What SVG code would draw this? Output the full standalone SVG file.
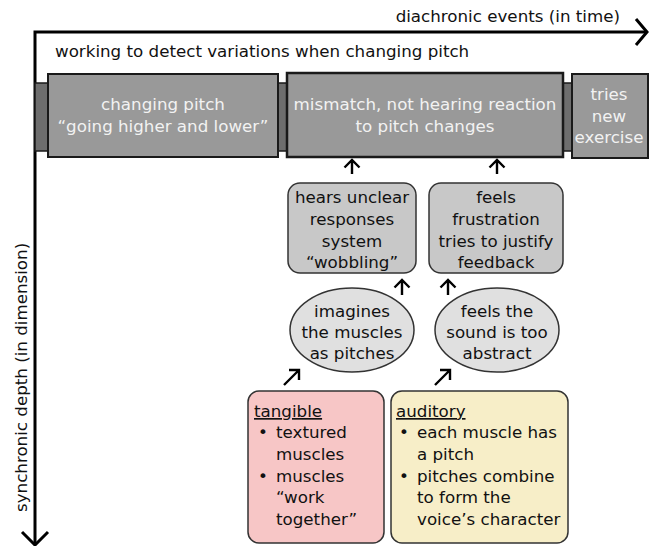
<svg xmlns="http://www.w3.org/2000/svg" width="649" height="546" viewBox="0 0 649 546">
<defs>
<style>
text{font-family:"DejaVu Sans","Noto Sans",sans-serif;font-size:16.7px;fill:#111;}
.w{fill:#f2f2f2;}
.c{text-anchor:middle;}
.ev{fill:#999;stroke:#1a1a1a;stroke-width:2;}
.strip{fill:#6e6e6e;stroke:#1a1a1a;stroke-width:1.5;}
.st{fill:#c8c8c8;stroke:#333;stroke-width:1.5;}
.el{fill:#e0e0e0;stroke:#333;stroke-width:1.5;}
.ar{fill:none;stroke:#000;stroke-width:2.4;}
.ax{fill:none;stroke:#000;stroke-width:3;}
</style>
</defs>
<rect width="649" height="546" fill="#fff"/>
<g id="axes">
<path class="ax" d="M35,545 V32 H647"/>
<path class="ax" d="M636,19 L647,32 L636,45"/>
<path class="ax" d="M22,532 L35,545 L48,532"/>
<text x="620" y="22" text-anchor="end">diachronic events (in time)</text>
<text transform="translate(27,512) rotate(-90)">synchronic depth (in dimension)</text>
<text x="55" y="57">working to detect variations when changing pitch</text>
</g>
<g id="strip">
<rect class="strip" x="35" y="83" width="616" height="68"/>
</g>
<g id="ev1">
<rect class="ev" x="48" y="74" width="230" height="83"/>
<text class="w c" x="163" y="110">changing pitch<tspan x="163" y="132">“going higher and lower”</tspan></text>
</g>
<g id="ev2">
<rect class="ev" x="287" y="73" width="276" height="84" style="stroke-width:2.5"/>
<text class="w c" x="425" y="110">mismatch, not hearing reaction<tspan x="425" y="132">to pitch changes</tspan></text>
</g>
<g id="ev3">
<rect class="ev" x="572" y="74" width="76" height="84"/>
<text class="w c" x="609" y="100">tries<tspan x="609" y="122">new</tspan><tspan x="609" y="143">exercise</tspan></text>
</g>
<g id="hears">
<rect class="st" x="288" y="183" width="128" height="90" rx="12"/>
<text class="c" x="352" y="203">hears unclear<tspan x="352" y="225">responses</tspan><tspan x="352" y="247">system</tspan><tspan x="352" y="268">“wobbling”</tspan></text>
</g>
<g id="frustration">
<rect class="st" x="429" y="183" width="134" height="90" rx="12"/>
<text class="c" x="496" y="203">feels<tspan x="496" y="225">frustration</tspan><tspan x="496" y="247">tries to justify</tspan><tspan x="496" y="268">feedback</tspan></text>
</g>
<g id="imagines">
<ellipse class="el" cx="352" cy="330" rx="62" ry="42"/>
<text class="c" x="352" y="317">imagines<tspan x="352" y="338">the muscles</tspan><tspan x="352" y="359">as pitches</tspan></text>
</g>
<g id="abstract">
<ellipse class="el" cx="497" cy="330" rx="62" ry="42"/>
<text class="c" x="497" y="317">feels the<tspan x="497" y="338">sound is too</tspan><tspan x="497" y="359">abstract</tspan></text>
</g>
<g id="tangible">
<rect x="248" y="391" width="136" height="152" rx="11" fill="#f7c6c6" stroke="#333" stroke-width="1.5"/>
<text x="254" y="417"><tspan text-decoration="underline">tangible</tspan><tspan x="258" y="438">•</tspan><tspan x="276" y="438">textured</tspan><tspan x="276" y="460">muscles</tspan><tspan x="258" y="482">•</tspan><tspan x="276" y="482">muscles</tspan><tspan x="276" y="503">“work</tspan><tspan x="276" y="525">together”</tspan></text>
</g>
<g id="auditory">
<rect x="391" y="391" width="177" height="152" rx="11" fill="#f7eec8" stroke="#333" stroke-width="1.5"/>
<text x="396" y="417"><tspan text-decoration="underline">auditory</tspan><tspan x="399" y="438">•</tspan><tspan x="417" y="438">each muscle has</tspan><tspan x="417" y="460">a pitch</tspan><tspan x="399" y="482">•</tspan><tspan x="417" y="482">pitches combine</tspan><tspan x="417" y="503">to form the</tspan><tspan x="417" y="525">voice’s character</tspan></text>
</g>
<g id="connectors">
<path class="ar" d="M352,174 V160 M344.5,167.5 L352,160 L359.5,167.5"/>
<path class="ar" d="M497,174 V160 M489.5,167.5 L497,160 L504.5,167.5"/>
<path class="ar" d="M402,295 V280 M394.5,287.5 L402,280 L409.5,287.5"/>
<path class="ar" d="M448,295 V280 M440.5,287.5 L448,280 L455.5,287.5"/>
<path class="ar" d="M284,385 L299,370 M289,370 L299,370 L299,380"/>
<path class="ar" d="M435,385 L450,370 M440,370 L450,370 L450,380"/>
</g>
</svg>
